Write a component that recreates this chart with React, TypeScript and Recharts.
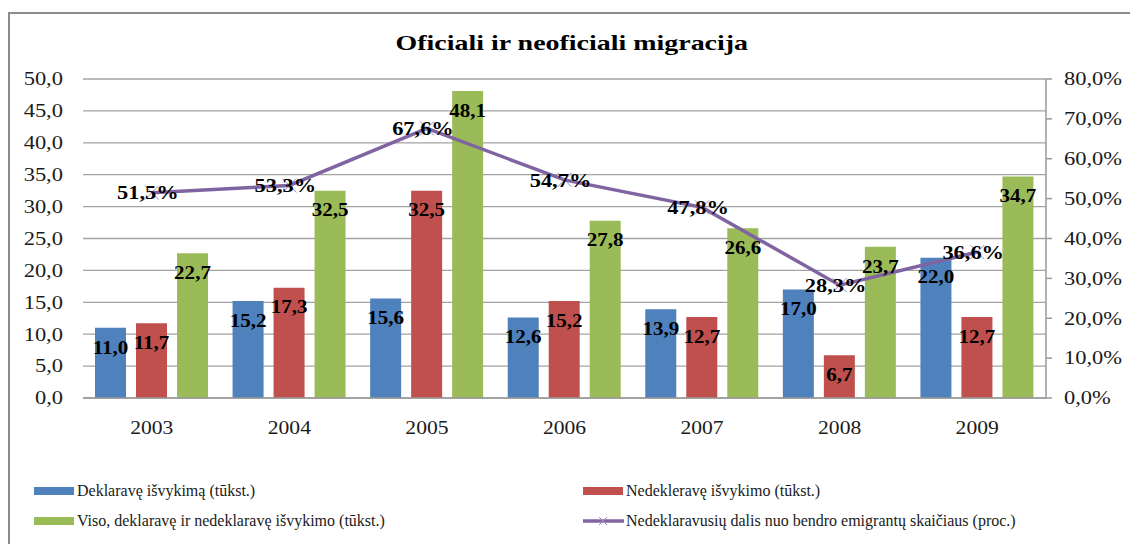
import React from 'react';
import {
  ComposedChart,
  Bar,
  Line,
  XAxis,
  YAxis,
  CartesianGrid,
  Legend,
  LabelList,
} from 'recharts';

const years = ['2003', '2004', '2005', '2006', '2007', '2008', '2009'];
const declared = [11.0, 15.2, 15.6, 12.6, 13.9, 17.0, 22.0];
const undeclared = [11.7, 17.3, 32.5, 15.2, 12.7, 6.7, 12.7];
const total = [22.7, 32.5, 48.1, 27.8, 26.6, 23.7, 34.7];
const share = [51.5, 53.3, 67.6, 54.7, 47.8, 28.3, 36.6];
const leftTicks = [0, 5, 10, 15, 20, 25, 30, 35, 40, 45, 50];
const rightTicks = [0, 10, 20, 30, 40, 50, 60, 70, 80];

const seriesNames = {
  declared: 'Deklaravę išvykimą (tūkst.)',
  undeclared: 'Nedeklerav\u0119 išvykimo (tūkst.)',
  total: 'Viso, deklaravę ir nedeklaravę išvykimo (tūkst.)',
  share: 'Nedeklaravusių dalis nuo bendro emigrantų skaičiaus (proc.)',
};
const title = 'Oficiali ir neoficiali migracija';

const BLUE = '#4F81BD';
const RED = '#C0504D';
const GREEN = '#9BBB59';
const PURPLE = '#8064A2';

const data = years.map((y, i) => ({
  year: y,
  declared: declared[i],
  undeclared: undeclared[i],
  total: total[i],
  share: share[i],
}));

const FONT = '"Liberation Serif", "Times New Roman", serif';
const fmt1 = (v: number) => Number(v).toFixed(1).replace('.', ',');
const fmtPct = (v: number) => Number(v).toFixed(1).replace('.', ',') + '%';

const makeTick = (kind: 'x' | 'left' | 'right') => (props: any) => {
  const { x, y, payload } = props;
  let text = String(payload.value);
  let anchor: 'start' | 'middle' | 'end' = 'middle';
  let dy = '0.71em';
  if (kind === 'left') {
    text = fmt1(payload.value);
    anchor = 'end';
    dy = '0.35em';
  } else if (kind === 'right') {
    text = fmtPct(payload.value);
    anchor = 'start';
    dy = '0.35em';
  }
  const sx = kind === 'x' ? 1.2 : 1.25;
  return (
    <text
      x={0}
      y={0}
      dy={dy}
      transform={`translate(${x},${y}) scale(${sx},1)`}
      textAnchor={anchor}
      style={{ fontFamily: FONT, fontSize: 18, fill: '#1a1a1a' }}
    >
      {text}
    </text>
  );
};

const barLabel = (props: any) => {
  const vb = props.viewBox || {};
  const x = props.x ?? vb.x;
  const y = props.y ?? vb.y;
  const width = props.width ?? vb.width ?? 0;
  const height = props.height ?? vb.height ?? 0;
  const top = height < 0 ? y + height : y;
  return (
    <text
      x={0}
      y={0}
      dy="0.71em"
      transform={`translate(${x + width / 2},${top + 13}) scale(1.17,1)`}
      textAnchor="middle"
      style={{ fontFamily: FONT, fontSize: 18, fontWeight: 'bold', fill: '#000' }}
    >
      {fmt1(props.value)}
    </text>
  );
};

const lineLabel = (props: any) => {
  const vb = props.viewBox || {};
  const x = props.x ?? vb.x;
  const y = props.y ?? vb.y;
  return (
    <text
      x={0}
      y={0}
      dy="0.35em"
      transform={`translate(${x - 4},${y}) scale(1.18,1)`}
      textAnchor="middle"
      style={{ fontFamily: FONT, fontSize: 19, fontWeight: 'bold', fill: '#000' }}
    >
      {fmtPct(props.value)}
    </text>
  );
};

const XDot = (props: any) => {
  const { cx, cy } = props;
  if (cx == null || cy == null) return null;
  const s = 7;
  return (
    <g>
      <line x1={cx - s} y1={cy - s} x2={cx + s} y2={cy + s} stroke="#9C8CC4" strokeWidth={1} />
      <line x1={cx - s} y1={cy + s} x2={cx + s} y2={cy - s} stroke="#9C8CC4" strokeWidth={1} />
    </g>
  );
};

const legendItemStyle: React.CSSProperties = {
  position: 'absolute',
  height: 16,
  lineHeight: '16px',
  fontFamily: FONT,
  fontSize: 16,
  color: '#1a1a1a',
  whiteSpace: 'nowrap',
};

const renderLegend = () => {
  const items = [
    { key: 'declared', color: BLUE, left: 34, top: -1, line: false },
    { key: 'undeclared', color: RED, left: 583, top: -1, line: false },
    { key: 'total', color: GREEN, left: 34, top: 29, line: false },
    { key: 'share', color: PURPLE, left: 583, top: 29, line: true },
  ];
  return (
    <div style={{ position: 'relative', width: 1130, height: 60 }}>
      {items.map((it) => (
        <div key={it.key} style={{ ...legendItemStyle, left: it.left, top: it.top }}>
          <svg width={41} height={16} style={{ position: 'absolute', left: 0, top: 0 }}>
            {it.line ? (
              <g>
                <line x1={0} y1={8} x2={41} y2={8} stroke={it.color} strokeWidth={3.5} />
                <line x1={16} y1={4} x2={24} y2={12} stroke="#9C8CC4" strokeWidth={1} />
                <line x1={16} y1={12} x2={24} y2={4} stroke="#9C8CC4" strokeWidth={1} />
              </g>
            ) : (
              <rect x={0} y={4} width={40} height={8} fill={it.color} />
            )}
          </svg>
          <span style={{ position: 'absolute', left: 43, top: 0 }}>
            {(seriesNames as any)[it.key]}
          </span>
        </div>
      ))}
    </div>
  );
};

export default function App() {
  return (
    <div>
      <div
        style={{
          position: 'absolute',
          left: 8,
          top: 12,
          width: 1122,
          height: 532,
          borderLeft: '2px solid #8c8c8c',
          borderTop: '2px solid #8c8c8c',
          boxSizing: 'border-box',
          background: '#fff',
        }}
      />
      <div
        style={{
          position: 'absolute',
          left: 0,
          top: 30,
          width: 1144,
          textAlign: 'center',
          zIndex: 2,
        }}
      >
        <span
          style={{
            display: 'inline-block',
            fontFamily: FONT,
            fontWeight: 'bold',
            fontSize: 22,
            lineHeight: '26px',
            color: '#000',
            transform: 'scaleX(1.27)',
            transformOrigin: 'center',
          }}
        >
          {title}
        </span>
      </div>
      <div style={{ position: 'absolute', left: 0, top: 0, width: 1130, height: 544, zIndex: 1 }}>
        <ComposedChart
          width={1130}
          height={544}
          data={data}
          margin={{ top: 79, right: 0, bottom: 0, left: 0 }}
          barSize={31}
          barGap={10}
        >
          <CartesianGrid yAxisId="left" vertical={false} stroke="#a3a3a3" strokeWidth={1.3} />
          <XAxis
            dataKey="year"
            height={86}
            axisLine={{ stroke: '#9a9a9a', strokeWidth: 1.5 }}
            tickLine={false}
            tickMargin={17}
            tick={makeTick('x')}
          />
          <YAxis
            yAxisId="left"
            domain={[0, 50]}
            ticks={leftTicks}
            width={83}
            axisLine={false}
            tickLine={false}
            tickMargin={14}
            interval={0}
            tick={makeTick('left')}
          />
          <YAxis
            yAxisId="right"
            orientation="right"
            domain={[0, 80]}
            ticks={rightTicks}
            width={84}
            axisLine={{ stroke: '#9a9a9a', strokeWidth: 1.5 }}
            tickLine={{ stroke: '#9a9a9a', strokeWidth: 1.5 }}
            tickSize={6}
            tickMargin={12}
            interval={0}
            tick={makeTick('right')}
          />
          <Legend
            verticalAlign="bottom"
            content={renderLegend}
            wrapperStyle={{ left: 0, width: 1130, height: 60 }}
          />
          <Bar yAxisId="left" dataKey="declared" name={seriesNames.declared} fill={BLUE} isAnimationActive={false}>
            <LabelList dataKey="declared" content={barLabel} />
          </Bar>
          <Bar yAxisId="left" dataKey="undeclared" name={seriesNames.undeclared} fill={RED} isAnimationActive={false}>
            <LabelList dataKey="undeclared" content={barLabel} />
          </Bar>
          <Bar yAxisId="left" dataKey="total" name={seriesNames.total} fill={GREEN} isAnimationActive={false}>
            <LabelList dataKey="total" content={barLabel} />
          </Bar>
          <Line
            yAxisId="right"
            dataKey="share"
            name={seriesNames.share}
            stroke={PURPLE}
            strokeWidth={3.5}
            dot={<XDot />}
            activeDot={false}
            isAnimationActive={false}
          >
            <LabelList dataKey="share" content={lineLabel} />
          </Line>
        </ComposedChart>
      </div>
    </div>
  );
}
